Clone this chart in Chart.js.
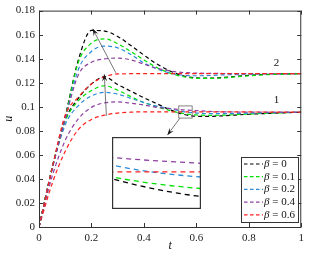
<!DOCTYPE html>
<html>
<head>
<meta charset="utf-8">
<script src="https://cdn.jsdelivr.net/npm/chart.js@4"></script>
<style>
  html, body { margin: 0; padding: 0; background: #fff; }
  #wrap { position: relative; width: 309px; height: 259px; }
  #main { position: absolute; left: 0; top: 0; }
  #inset { position: absolute; left: 112px; top: 137px; }
</style>
</head>
<body>
<div id="wrap">
  <canvas id="main" width="309" height="259"></canvas>
  <canvas id="inset" width="89" height="72"></canvas>
</div>
<script>
// --- data ---
const tVals = [0, 0.05, 0.1, 0.15, 0.2, 0.25, 0.3, 0.35, 0.4, 0.45, 0.5, 0.55, 0.6, 0.65, 0.7, 0.8, 0.9, 1.0];

// case 2 (upper group)
const black2  = [0, 0.049, 0.092, 0.139, 0.1635, 0.163, 0.1585, 0.151, 0.143, 0.1355, 0.1298, 0.1258, 0.124, 0.1238, 0.1243, 0.1262, 0.1272, 0.1275];
const green2  = [0, 0.049, 0.091, 0.137, 0.153, 0.1565, 0.1525, 0.146, 0.139, 0.1325, 0.128, 0.125, 0.1237, 0.1236, 0.124, 0.1258, 0.127, 0.1275];
const blue2   = [0, 0.049, 0.09, 0.131, 0.146, 0.1505, 0.149, 0.1435, 0.1365, 0.1315, 0.128, 0.1262, 0.1258, 0.126, 0.1265, 0.1271, 0.1274, 0.1275];
const purple2 = [0, 0.048, 0.09, 0.1265, 0.137, 0.1398, 0.1405, 0.139, 0.1355, 0.132, 0.1298, 0.1285, 0.128, 0.1278, 0.1277, 0.1276, 0.1275, 0.1275];
const red2    = [0, 0.049, 0.093, 0.108, 0.119, 0.125, 0.1273, 0.1275, 0.1275, 0.1275, 0.1275, 0.1275, 0.1275, 0.1275, 0.1275, 0.1275, 0.1275, 0.1275];

// case 1 (lower group)
const black1  = [0, 0.049, 0.089, 0.107, 0.119, 0.125, 0.1185, 0.113, 0.1075, 0.1025, 0.0975, 0.0938, 0.0921, 0.092, 0.0925, 0.0938, 0.0947, 0.0955];
const green1  = [0, 0.049, 0.088, 0.105, 0.1135, 0.1175, 0.1138, 0.1085, 0.1035, 0.1, 0.0968, 0.0944, 0.0932, 0.0929, 0.093, 0.094, 0.0948, 0.0955];
const blue1   = [0, 0.048, 0.085, 0.101, 0.109, 0.112, 0.1105, 0.107, 0.1035, 0.1005, 0.0985, 0.096, 0.0948, 0.0943, 0.0943, 0.0947, 0.0952, 0.0955];
const purple1 = [0, 0.042, 0.072, 0.09, 0.0995, 0.1033, 0.104, 0.103, 0.1015, 0.0995, 0.0985, 0.0975, 0.0968, 0.0962, 0.0958, 0.0956, 0.0955, 0.0955];
const red1    = [0, 0.036, 0.063, 0.081, 0.0895, 0.093, 0.0948, 0.0955, 0.0958, 0.0958, 0.0958, 0.0958, 0.0958, 0.0958, 0.0958, 0.0957, 0.0956, 0.0955];

const betaLabels = ['0', '0.1', '0.2', '0.4', '0.6'];
const colors = ['#000000', '#00e000', '#2b8ad6', '#8e3fa0', '#ff2020'];
const xTicks = [0, 0.2, 0.4, 0.6, 0.8, 1];

// zoom window shown in the inset (data coordinates)
const zoomT = [0.533, 0.584];
const zoomU = [0.0906, 0.1007];

const SERIF = '"Liberation Serif", "DejaVu Serif", serif';

function pts(ys) {
    return ys.map((y, i) => ({ x: tVals[i], y: y }));
}

function buildDatasets(width, dash) {
    const groups = [
        [black1, green1, blue1, purple1, red1],
        [black2, green2, blue2, purple2, red2]
    ];
    const out = [];
    groups.forEach(g => {
        g.forEach((ys, k) => {
            out.push({
                data: pts(ys),
                borderColor: colors[k],
                borderWidth: width,
                borderDash: dash,
                pointRadius: 0,
                fill: false,
                cubicInterpolationMode: 'monotone'
            });
        });
    });
    // draw red last (on top) -> chart.js paints index 0 on top, so reverse
    return out.reverse();
}

function arrow(ctx, x1, y1, x2, y2) {
    ctx.beginPath();
    ctx.moveTo(x1, y1);
    ctx.lineTo(x2, y2);
    ctx.stroke();
    const a = Math.atan2(y2 - y1, x2 - x1);
    const L = 7, W = 2.6;
    ctx.beginPath();
    ctx.moveTo(x2, y2);
    ctx.lineTo(x2 - L * Math.cos(a) + W * Math.sin(a), y2 - L * Math.sin(a) - W * Math.cos(a));
    ctx.lineTo(x2 - L * 0.6 * Math.cos(a), y2 - L * 0.6 * Math.sin(a));
    ctx.lineTo(x2 - L * Math.cos(a) - W * Math.sin(a), y2 - L * Math.sin(a) + W * Math.cos(a));
    ctx.closePath();
    ctx.fill();
}

const decor = {
    id: 'decor',
    afterDraw(chart) {
        const ctx = chart.ctx;
        const xs = chart.scales.x, ys = chart.scales.y;
        const a = chart.chartArea;
        const X = v => xs.getPixelForValue(v);
        const Y = v => ys.getPixelForValue(v);
        ctx.save();

        // frame + inward ticks
        ctx.strokeStyle = '#333';
        ctx.lineWidth = 1;
        ctx.strokeRect(a.left + 0.5, a.top + 0.5, a.right - a.left - 1, a.bottom - a.top);
        ctx.beginPath();
        xs.ticks.forEach(t => {
            const px = Math.round(X(t.value)) + 0.5;
            ctx.moveTo(px, a.bottom); ctx.lineTo(px, a.bottom - 4);
            ctx.moveTo(px, a.top); ctx.lineTo(px, a.top + 4);
        });
        ys.ticks.forEach(t => {
            const py = Math.round(Y(t.value)) + 0.5;
            ctx.moveTo(a.left, py); ctx.lineTo(a.left + 4, py);
            ctx.moveTo(a.right, py); ctx.lineTo(a.right - 4, py);
        });
        ctx.stroke();

        // zoom box
        ctx.strokeStyle = '#666';
        ctx.lineWidth = 0.8;
        ctx.strokeRect(X(zoomT[0]), Y(zoomU[1]), X(zoomT[1]) - X(zoomT[0]), Y(zoomU[0]) - Y(zoomU[1]));

        // arrows
        ctx.strokeStyle = '#555';
        ctx.fillStyle = '#111';
        ctx.lineWidth = 0.8;
        arrow(ctx, X(0.293), Y(0.1283), X(0.205), Y(0.1648));
        arrow(ctx, X(0.257), Y(0.0925), X(0.249), Y(0.127));
        arrow(ctx, X(0.537), Y(0.0905), X(0.49), Y(0.0765));

        // curve group labels
        ctx.fillStyle = '#111';
        ctx.font = '11px ' + SERIF;
        ctx.textAlign = 'center';
        ctx.textBaseline = 'middle';
        ctx.fillText('2', X(0.906), Y(0.1365));
        ctx.fillText('1', X(0.906), Y(0.1055));

        // axis titles
        ctx.font = 'italic 12px ' + SERIF;
        ctx.fillText('t', X(0.5), 246);
        ctx.save();
        ctx.translate(9, Y(0.09));
        ctx.rotate(-Math.PI / 2);
        ctx.fillText('u', 0, 0);
        ctx.restore();

        // legend
        const lx = 241, ly = 157, lw = 57, lh = 65;
        ctx.fillStyle = '#fff';
        ctx.fillRect(lx, ly, lw, lh);
        ctx.strokeStyle = '#333';
        ctx.lineWidth = 1;
        ctx.strokeRect(lx + 0.5, ly + 0.5, lw, lh);
        betaLabels.forEach((b, i) => {
            const yy = ly + 7 + i * 12.7;
            ctx.strokeStyle = colors[i];
            ctx.lineWidth = 1.2;
            ctx.setLineDash([3.5, 2.5]);
            ctx.beginPath();
            ctx.moveTo(lx + 3, yy); ctx.lineTo(lx + 22, yy);
            ctx.stroke();
            ctx.setLineDash([]);
            ctx.fillStyle = '#111';
            ctx.textAlign = 'left';
            ctx.font = 'italic 11px ' + SERIF;
            ctx.fillText('\u03B2', lx + 23, yy);
            const bw = ctx.measureText('\u03B2').width;
            ctx.font = '11px ' + SERIF;
            ctx.fillText(' = ' + b, lx + 23 + bw, yy);
        });
        ctx.restore();
    }
};

new Chart(document.getElementById('main'), {
    type: 'line',
    data: { datasets: buildDatasets(1.2, [4, 3]) },
    options: {
        responsive: false,
        animation: false,
        events: [],
        layout: { padding: { top: 7, right: 5, left: 0, bottom: 0 } },
        plugins: { legend: { display: false }, tooltip: { enabled: false } },
        scales: {
            x: {
                type: 'linear', min: 0, max: 1,
                afterBuildTicks: s => { s.ticks = xTicks.map(v => ({ value: v })); },
                afterFit: s => { s.height = 32; },
                grid: { display: false, drawTicks: false },
                border: { display: false },
                ticks: {
                    padding: 5, color: '#222', maxRotation: 0,
                    font: { family: SERIF, size: 11 },
                    callback: v => String(+v.toFixed(2))
                }
            },
            y: {
                type: 'linear', min: 0, max: 0.18,
                ticks: {
                    stepSize: 0.02, padding: 4, color: '#222',
                    font: { family: SERIF, size: 11 },
                    callback: v => String(+v.toFixed(2))
                },
                afterFit: s => { s.width = 39; },
                grid: { display: false, drawTicks: false },
                border: { display: false }
            }
        }
    },
    plugins: [decor]
});

const insetFrame = {
    id: 'insetFrame',
    beforeDraw(chart) {
        const ctx = chart.ctx;
        ctx.save();
        ctx.fillStyle = '#fff';
        ctx.fillRect(0, 0, chart.width, chart.height);
        ctx.restore();
    },
    afterDraw(chart) {
        const ctx = chart.ctx;
        ctx.save();
        ctx.strokeStyle = '#333';
        ctx.lineWidth = 1.2;
        ctx.strokeRect(0.6, 0.6, chart.width - 1.2, chart.height - 1.2);
        ctx.restore();
    }
};

new Chart(document.getElementById('inset'), {
    type: 'line',
    data: { datasets: buildDatasets(1.3, [5, 4]) },
    options: {
        responsive: false,
        animation: false,
        events: [],
        layout: { padding: 0 },
        plugins: { legend: { display: false }, tooltip: { enabled: false } },
        scales: {
            x: { type: 'linear', min: zoomT[0], max: zoomT[1], display: false },
            y: { type: 'linear', min: zoomU[0], max: zoomU[1], display: false }
        }
    },
    plugins: [insetFrame]
});
</script>
</body>
</html>
